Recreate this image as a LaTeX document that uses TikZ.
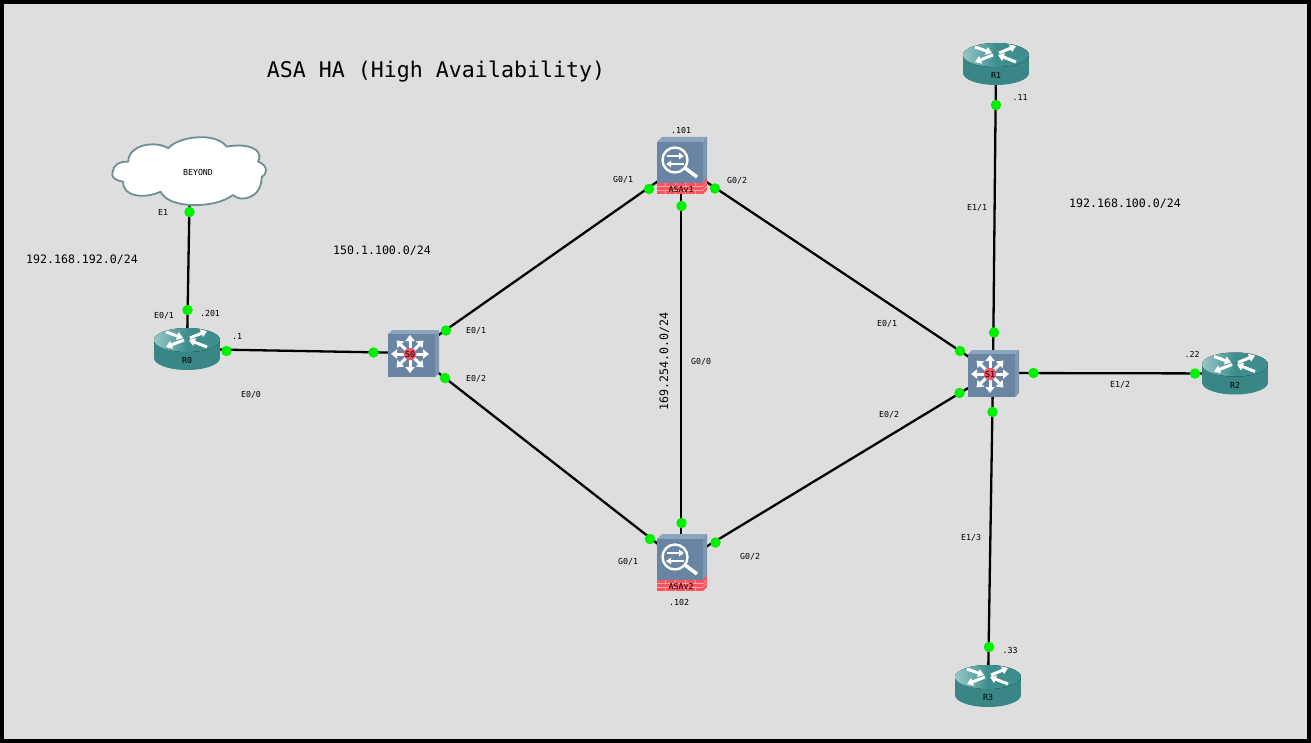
\documentclass[tikz,border=0pt]{standalone}
\usepackage{fontspec}
\setmainfont{DejaVu Sans Mono}
\usetikzlibrary{arrows.meta,backgrounds}
\definecolor{pagebg}{RGB}{222,222,222}
\definecolor{teal}{RGB}{62,142,142}
\definecolor{teallight}{RGB}{150,200,200}
\definecolor{tealdark}{RGB}{56,134,134}
\definecolor{devblue}{RGB}{105,133,163}
\definecolor{devtop}{RGB}{140,165,190}
\definecolor{devside}{RGB}{125,150,178}
\definecolor{fwred}{RGB}{250,85,95}
\definecolor{mortar}{RGB}{255,165,165}
\definecolor{hubred}{RGB}{235,85,110}
\definecolor{cloudedge}{RGB}{112,142,146}
\definecolor{dotgreen}{RGB}{0,240,0}
\tikzset{
  x=1pt,y=-1pt,
  anchorpt/.style={inner sep=0pt,outer sep=0pt,minimum size=0pt},
  link/.style={line width=2.3pt,black},
  dot/.style={circle,fill=dotgreen,inner sep=0pt,minimum size=10.5pt},
  small/.style={font=\fontsize{8.3}{9}\selectfont,inner sep=0pt,text=black,yshift=-0.7pt},
  medium/.style={font=\fontsize{11.6}{13}\selectfont,inner sep=0pt,text=black,yshift=-0.7pt},
  titletext/.style={font=\fontsize{21.6}{24}\selectfont,inner sep=0pt,text=black,yshift=-2pt},
  iconarrow/.style={white,line width=3pt,-{Triangle[width=8pt,length=6pt]}},
  hubarrow/.style={white,line width=3pt,-{Triangle[width=9pt,length=6pt]}},
  lensarrow/.style={white,line width=1.8pt,-{Triangle[width=6.5pt,length=5pt]}},
}
% name, x, y (link centre), label; icon drawn round the centre
\newcommand{\routerdev}[4]{%
  \node[anchorpt] (#1) at (#2,#3) {};
  \begin{scope}[shift={(#2,#3)}]
    \fill[tealdark] (-33,-9) rectangle (33,9);
    \fill[tealdark] (0,9) ellipse[x radius=33pt,y radius=12pt];
    \fill[left color=teallight,right color=teal,middle color=teal] (0,-9) ellipse[x radius=33pt,y radius=12pt];
    \draw[iconarrow] (-21,-17) -- (-4,-11);
    \draw[iconarrow] (3,-11) -- (20,-18);
    \draw[iconarrow] (-3,-9) -- (-21,-2);
    \draw[iconarrow] (20,-2) -- (2,-9);
    \node[small] at (0,11) {#4};
  \end{scope}}
\newcommand{\switchdev}[4]{%
  \node[anchorpt] (#1) at (#2,#3) {};
  \begin{scope}[shift={(#2,#3)}]
    \fill[devtop] (-25,-19) -- (-21,-23) -- (26,-23) -- (22,-19) -- cycle;
    \fill[devside] (22,-19) -- (26,-23) -- (26,20) -- (22,24) -- cycle;
    \fill[devblue] (-25,-19) rectangle (22,24);
    \foreach \a in {0,45,...,315}{
      \draw[hubarrow] (-3,1) ++(\a:5pt) -- ++(\a:14pt);
    }
    \fill[hubred] (-3,1) circle[radius=6.3pt];
    \node[small] at (-3,1) {#4};
  \end{scope}}
\newcommand{\asadev}[4]{%
  \node[anchorpt] (#1) at (#2,#3) {};
  \begin{scope}[shift={(#2,#3)}]
    \fill[devtop] (-24,-23) -- (-19,-28) -- (26,-28) -- (22,-23) -- cycle;
    \fill[devside] (22,-23) -- (26,-28) -- (26,14) -- (22,18) -- cycle;
    \fill[devblue] (-24,-23) rectangle (22,18);
    \fill[fwred] (-24,18) rectangle (22,29);
    \fill[fwred] (22,18) -- (26,13) -- (26,25) -- (22,29) -- cycle;
    \foreach \yy in {21.5,25}{\draw[mortar,line width=.5pt] (-24,\yy) -- (22,\yy);}
    \foreach \xx in {-16,-6,4,14}{\draw[mortar,line width=.5pt] (\xx,18) -- (\xx,21.5) (\xx,25) -- (\xx,29);}
    \draw[mortar,line width=.5pt] (22,21.5) -- (26,17.5) (22,25) -- (26,21);
    \draw[white,line width=2.4pt] (-6,-5) circle[radius=12.5pt];
    \draw[white,line width=3.5pt] (4,3) -- (16,12);
    \draw[lensarrow] (-14,-9) -- (3,-9);
    \draw[lensarrow] (3,-1) -- (-15,-1);
    \node[small] at (0,23.5) {#4};
  \end{scope}}
\begin{document}
\begin{tikzpicture}
\useasboundingbox (0,0) rectangle (1311,743);
\begin{scope}[on background layer]
  \fill[black] (0,0) rectangle (1311,743);
  \fill[pagebg] (4,4) rectangle (1307,739);
\end{scope}

% Cloud
\node[anchorpt] (CL) at (190,171) {};
\draw[cloudedge,fill=white,line width=1.8pt,line join=round]
  (112.7,171.7)
  .. controls (113,165) and (120,161) .. (128.3,161.7)
  .. controls (128,145) and (155,140) .. (168.3,148.3)
  .. controls (177,137) and (215,131) .. (226.7,146.7)
  .. controls (245,143) and (265,148) .. (258,161.7)
  .. controls (268,165) and (268,174) .. (261.7,176.7)
  .. controls (262,198) and (241,203) .. (233,195)
  .. controls (215,209) and (168,209) .. (160.7,191.7)
  .. controls (145,199) and (122,197) .. (123.3,181.7)
  .. controls (113,180) and (111,176) .. (112.7,171.7) -- cycle;
\node[small] at (198,172) {BEYOND};

% Devices
\routerdev{R0}{187}{349}{R0}
\routerdev{R1}{996}{64}{R1}
\routerdev{R2}{1235}{373.5}{R2}
\routerdev{R3}{988}{686}{R3}
\switchdev{S0}{413}{353}{S0}
\switchdev{S1}{993}{373}{S1}
\asadev{AS1}{681}{165}{ASAv1}
\asadev{AS2}{681}{562}{ASAv2}

% Connectors
\begin{scope}[on background layer]
  \draw[link] (CL) -- (R0);
  \draw[link] (R0) -- (S0);
  \draw[link] (S0) -- (AS1);
  \draw[link] (S0) -- (AS2);
  \draw[link] (AS1) -- (AS2);
  \draw[link] (AS1) -- (S1);
  \draw[link] (AS2) -- (S1);
  \draw[link] (R1) -- (S1);
  \draw[link] (S1) -- (R2);
  \draw[link] (S1) -- (R3);
\end{scope}

% Port dots
\node[dot] (p1) at (189.5,212) {};
\node[dot] (p2) at (187.5,310) {};
\node[dot] (p3) at (226.5,351) {};
\node[dot] (p4) at (373.5,352.5) {};
\node[dot] (p5) at (446,330.5) {};
\node[dot] (p6) at (445,378) {};
\node[dot] (p7) at (649,189) {};
\node[dot] (p8) at (650,539) {};
\node[dot] (p9) at (681.5,206) {};
\node[dot] (p10) at (681.5,523) {};
\node[dot] (p11) at (715,188.5) {};
\node[dot] (p12) at (715.5,542.5) {};
\node[dot] (p13) at (960,351) {};
\node[dot] (p14) at (959.5,393) {};
\node[dot] (p15) at (994,332.5) {};
\node[dot] (p16) at (1033.5,373) {};
\node[dot] (p17) at (992.5,412) {};
\node[dot] (p18) at (996,105) {};
\node[dot] (p19) at (1195,373.5) {};
\node[dot] (p20) at (989,647) {};

% Small labels
\node[small] (l1) at (163,212) {E1};
\node[small] (l2) at (164,315) {E0/1};
\node[small] (l3) at (210,313) {.201};
\node[small] (l4) at (237,336) {.1};
\node[small] (l5) at (251,394) {E0/0};
\node[small] (l6) at (476,330) {E0/1};
\node[small] (l7) at (476,378) {E0/2};
\node[small] (l8) at (623,179) {G0/1};
\node[small] (l9) at (737,180) {G0/2};
\node[small] (l10) at (681,130) {.101};
\node[small] (l11) at (701,361) {G0/0};
\node[small] (l12) at (628,561) {G0/1};
\node[small] (l13) at (750,556) {G0/2};
\node[small] (l14) at (679,602) {.102};
\node[small] (l15) at (887,323) {E0/1};
\node[small] (l16) at (889,414) {E0/2};
\node[small] (l17) at (977,207) {E1/1};
\node[small] (l18) at (1020,97) {.11};
\node[small] (l19) at (1120,384) {E1/2};
\node[small] (l20) at (1192,354) {.22};
\node[small] (l21) at (971,537) {E1/3};
\node[small] (l22) at (1010,650) {.33};

% Network labels
\node[medium] (n1) at (82,259) {192.168.192.0/24};
\node[medium] (n2) at (382,250) {150.1.100.0/24};
\node[medium] (n3) at (1125,203) {192.168.100.0/24};
\node[medium,rotate=90,yshift=0.7pt] (n4) at (665,361) {169.254.0.0/24};
\node[titletext] (title) at (436,70) {ASA HA (High Availability)};
\end{tikzpicture}
\end{document}
